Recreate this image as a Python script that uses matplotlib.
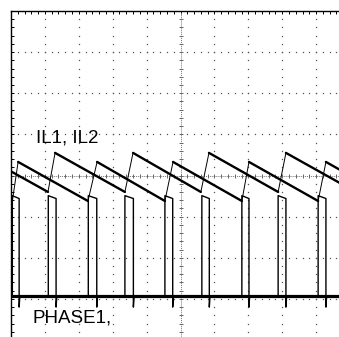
import numpy as np
import matplotlib.pyplot as plt
from matplotlib.ticker import MultipleLocator

# scope screen: 10 divisions across, 8 up; everything below is in divisions

# inductor currents, vertices (start, valley, peak, ..., end)
il1_t = [0.0, 1.09, 1.30, 3.36, 3.60, 5.60, 5.84, 7.88, 8.11, 10.0]
il1_v = [4.10, 3.60, 4.55, 3.60, 4.55, 3.60, 4.55, 3.60, 4.55, 3.68]
il2_t = [0.0, 0.04, 0.21, 2.27, 2.54, 4.54, 4.78, 6.81, 7.02, 9.06, 9.29, 10.0]
il2_v = [3.38, 3.38, 4.33, 3.38, 4.33, 3.38, 4.33, 3.38, 4.33, 3.38, 4.33, 4.00]

# switch node pulses (rising edge, falling edge)
ph1_rise = [1.10, 3.36, 5.63, 7.88]
ph1_fall = [1.33, 3.61, 5.85, 8.11]
ph2_rise = [0.04, 2.28, 4.54, 6.81, 9.06]
ph2_fall = [0.24, 2.53, 4.77, 7.02, 9.29]
ph_hi_start = 3.51
ph_hi_end = 3.44
ph_lo = 1.06
ph_under = 0.80

labels = ["IL1, IL2", "PHASE1,"]
label_xy = [(0.74, 4.91), (0.62, 0.53)]


def pulse_train(rises, falls):
    t, v = [0.0], [ph_lo]
    for r, f in zip(rises, falls):
        t += [r, r, f, f, f + 0.02, f + 0.05]
        v += [ph_lo, ph_hi_start, ph_hi_end, ph_under, ph_lo, ph_lo]
    t.append(10.0)
    v.append(ph_lo)
    return t, v


fig = plt.figure(figsize=(3.39, 3.37), dpi=100)
ax = fig.add_axes([11 / 339, -3 / 337, 339 / 339, 329 / 337])
ax.set_xlim(0, 10)
ax.set_ylim(0, 8)

# graticule
for s in ['right', 'bottom']:
    ax.spines[s].set_visible(False)
for s in ['top', 'left']:
    ax.spines[s].set_linewidth(1.0)
ax.xaxis.tick_top()
ax.xaxis.set_major_locator(MultipleLocator(1))
ax.xaxis.set_minor_locator(MultipleLocator(0.2))
ax.yaxis.set_major_locator(MultipleLocator(1))
ax.yaxis.set_minor_locator(MultipleLocator(0.2))
ax.tick_params(which='both', direction='in', length=1.8, width=0.7,
               labeltop=False, labelleft=False, labelbottom=False)

fine = np.arange(1, 40) * 0.2
for gx in range(1, 10):
    if gx != 5:
        ax.plot(np.full_like(fine, gx), fine, ls='none', marker='s', ms=0.9,
                mew=0, color='#555555')
finex = np.arange(1, 50) * 0.2
for gy in range(1, 8):
    if gy != 4:
        ax.plot(finex, np.full_like(finex, gy), ls='none', marker='s', ms=0.9,
                mew=0, color='#555555')

ax.axvline(5, color='#777777', lw=0.7, ls=(0, (1, 1)))
ax.axhline(4, color='#777777', lw=0.7, ls=(0, (1, 1)))
ax.plot(np.full_like(fine, 5), fine, ls='none', marker='_', ms=3.5, mew=0.7,
        color='#666666')
ax.plot(finex, np.full_like(finex, 4), ls='none', marker='|', ms=3.5, mew=0.7,
        color='#666666')

# currents: fast rises thin, slow ramps heavy
for t, v in [(il1_t, il1_v), (il2_t, il2_v)]:
    ax.plot(t, v, color='black', lw=0.7)
    for i in range(len(t) - 1):
        if v[i + 1] < v[i]:
            ax.plot(t[i:i + 2], v[i:i + 2], color='black', lw=1.7,
                    solid_capstyle='round')

# phase nodes
for rises, falls in [(ph1_rise, ph1_fall), (ph2_rise, ph2_fall)]:
    t, v = pulse_train(rises, falls)
    ax.plot(t, v, color='black', lw=1.0)
ax.plot([0, 10], [ph_lo, ph_lo], color='black', lw=2.3)

for txt, (x, y) in zip(labels, label_xy):
    ax.text(x, y, txt, fontsize=13.5, family='Liberation Sans',
            ha='left', va='center', color='black')

fig.savefig('out.png', dpi=100)
